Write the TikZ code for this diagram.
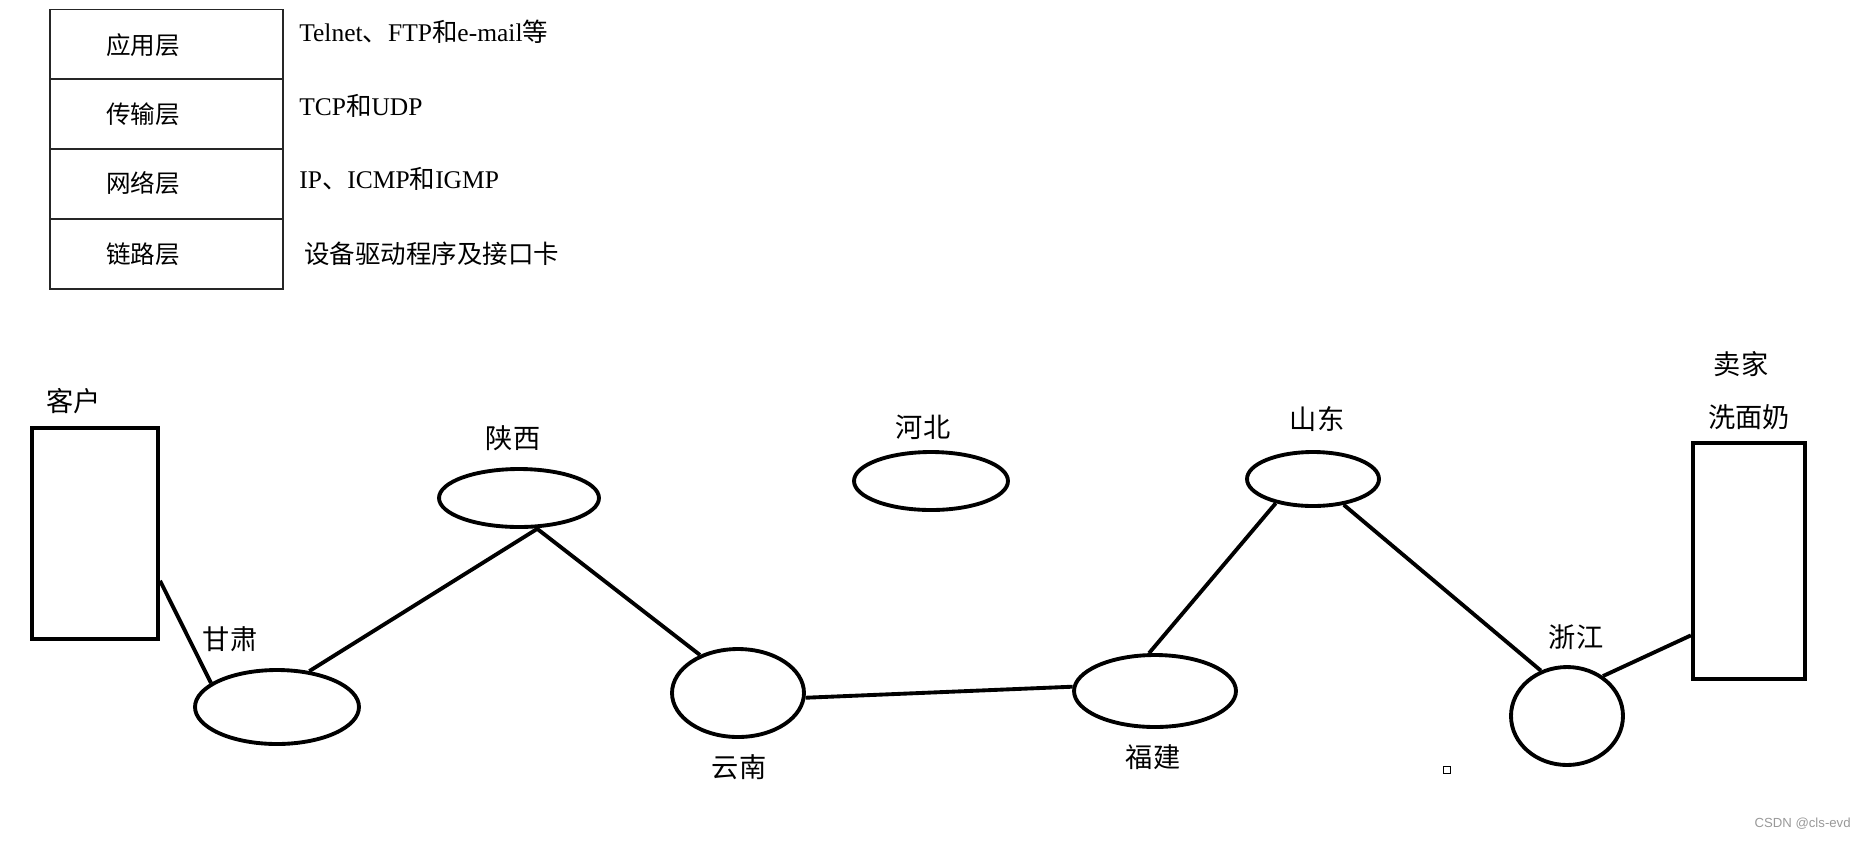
\documentclass[tikz,border=0pt]{standalone}
\usepackage{fontspec}
\setmainfont{Liberation Serif}
\newfontfamily\zhfont{Noto Sans CJK SC}
\newfontfamily\wmfont{Liberation Sans}
\newcommand\zh[1]{{\zhfont #1}}
\usetikzlibrary{shapes.geometric}
\tikzset{
 net place/.style={ellipse,draw=black,line width=2.2pt,inner sep=0pt},
 net end/.style={rectangle,draw=black,line width=2.4pt,inner sep=0pt},
 net link/.style={line width=2.2pt},
 place label/.style={font=\zhfont\fontsize{15.5}{18}\selectfont,inner sep=0pt},
 layer cell/.style={rectangle,draw=black!85,line width=0.9pt,
                    minimum width=4.66cm,minimum height=1.4cm,inner sep=0pt},
 layer name/.style={font=\zhfont\fontsize{14}{16}\selectfont,inner sep=0pt},
 proto text/.style={font=\fontsize{14.5}{16}\selectfont,anchor=west,inner sep=0pt}
}

\begin{document}
\begin{tikzpicture}[x=0.02cm,y=-0.02cm]
 \useasboundingbox (0,0) rectangle (1867,840);

 % layer table
 \node[layer cell] (app) at (166.5,44.5) {};
 \node[layer cell] (trans) at (166.5,114) {};
 \node[layer cell] (netw) at (166.5,184) {};
 \node[layer cell] (link) at (166.5,254) {};
 \node[layer name] (appname) at (143,45) {应用层};
 \node[layer name] (transname) at (143,114) {传输层};
 \node[layer name] (netwname) at (143,183) {网络层};
 \node[layer name] (linkname) at (143,254) {链路层};
 \node[proto text] (appproto) at (299,32) {Telnet\zh{、}FTP\zh{和}e-mail\zh{等}};
 \node[proto text] (transproto) at (299,106) {TCP\zh{和}UDP};
 \node[proto text] (netwproto) at (299,179) {IP\zh{、}ICMP\zh{和}IGMP};
 \node[proto text,font=\zhfont\fontsize{14.5}{16}\selectfont] (linkproto) at (304,254) {设备驱动程序及接口卡};

 % route
 \node[net end,minimum width=2.52cm,minimum height=4.22cm] (client) at (95,533.5) {};
 \node[net end,minimum width=2.24cm,minimum height=4.72cm] (seller) at (1749,561) {};
 \node[net place,minimum width=3.28cm,minimum height=1.48cm] (gansu) at (277,707) {};
 \node[net place,minimum width=3.2cm,minimum height=1.16cm] (shaanxi) at (519,498) {};
 \node[net place,minimum width=2.64cm,minimum height=1.76cm] (yunnan) at (738,693) {};
 \node[net place,minimum width=3.08cm,minimum height=1.16cm] (hebei) at (931,481) {};
 \node[net place,minimum width=3.24cm,minimum height=1.44cm] (fujian) at (1155,691) {};
 \node[net place,minimum width=2.64cm,minimum height=1.08cm] (shandong) at (1313,479) {};
 \node[net place,minimum width=2.24cm,minimum height=1.96cm] (zhejiang) at (1567,716) {};

 \node[place label] (clientname) at (74,401) {客户};
 \node[place label] (sellername) at (1741,364) {卖家};
 \node[place label] (goods) at (1749,417) {洗面奶};
 \node[place label] (gansuname) at (230,639) {甘肃};
 \node[place label] (shaanxiname) at (513,438) {陕西};
 \node[place label] (yunnanname) at (739,767) {云南};
 \node[place label] (hebeiname) at (923,427) {河北};
 \node[place label] (fujianname) at (1153,757) {福建};
 \node[place label] (shandongname) at (1317,419) {山东};
 \node[place label] (zhejiangname) at (1576,637) {浙江};

 \draw[net link] (client.-36) -- (gansu.160);
 \draw[net link] (gansu.48) -- (shaanxi.-57);
 \draw[net link] (shaanxi.-60) -- (yunnan.135);
 \draw[net link] (yunnan.-4) -- (fujian.177);
 \draw[net link] (fujian.99) -- (shandong.213);
 \draw[net link] (shandong.-40) -- (zhejiang.120);
 \draw[net link] (zhejiang.48) -- (seller.232);

 \node[draw,line width=0.6pt,minimum size=0.14cm,inner sep=0pt] (dot) at (1447,770) {};
 \node[font=\wmfont\fontsize{7.5}{9}\selectfont,text=black!40,anchor=east,inner sep=0pt] (mark) at (1851,824) {CSDN @cls-evd};
\end{tikzpicture}
\end{document}
